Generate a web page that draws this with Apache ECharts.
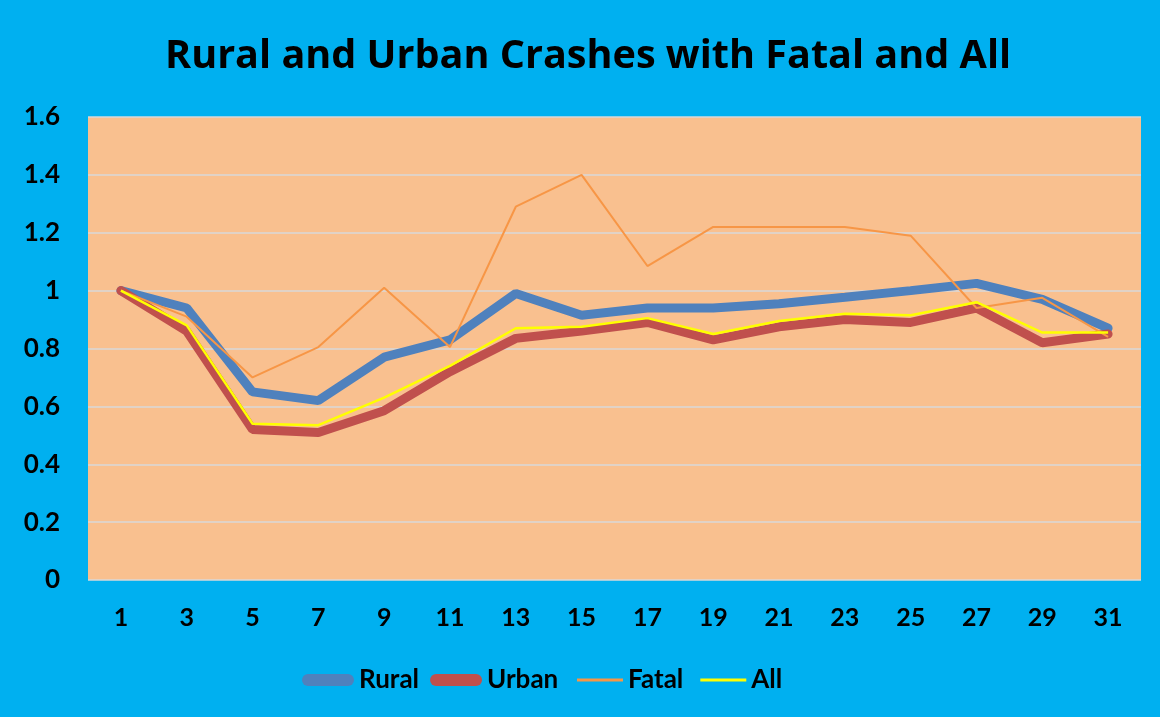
<!DOCTYPE html>
<html>
<head>
<meta charset="utf-8">
<script src="https://cdn.jsdelivr.net/npm/echarts@6/dist/echarts.min.js"></script>
<style>
  html, body { margin: 0; padding: 0; background: #00B0F0; }
  #main { width: 1160px; height: 717px; }
</style>
</head>
<body>
<div id="main"></div>
<script>
// x categories (every other day)
var days = ['1', '3', '5', '7', '9', '11', '13', '15', '17', '19', '21', '23', '25', '27', '29', '31'];

// values
var rural = [1.00, 0.94, 0.65, 0.62, 0.77, 0.83, 0.99, 0.915, 0.94, 0.94, 0.955, 0.977, 1.00, 1.025, 0.97, 0.87];
var urban = [1.00, 0.86, 0.52, 0.51, 0.585, 0.72, 0.835, 0.86, 0.89, 0.83, 0.875, 0.90, 0.89, 0.94, 0.82, 0.85];
var fatal = [1.00, 0.91, 0.70, 0.805, 1.01, 0.805, 1.29, 1.40, 1.085, 1.22, 1.22, 1.22, 1.19, 0.94, 0.975, 0.84];
var all   = [1.00, 0.88, 0.54, 0.535, 0.63, 0.74, 0.87, 0.875, 0.905, 0.85, 0.895, 0.92, 0.915, 0.96, 0.855, 0.855];

var FONT = 'Lato';
// capsule shaped legend marker for the thick lines
var capsule = 'path://M6,0 L46,0 A6,6 0 0 1 46,12 L6,12 A6,6 0 0 1 6,0 Z';

var myChart = echarts.init(document.getElementById('main'));

var option = {
  backgroundColor: '#00B0F0',
  animation: false,
  title: {
    text: 'Rural and Urban Crashes with Fatal and All',
    left: 160,
    top: 32,
    textStyle: { fontFamily: 'Open Sans', fontWeight: 'bold', fontSize: 39.6, color: '#000' }
  },
  legend: [
    {
      data: ['Rural', 'Urban'],
      left: 297,
      top: 662,
      icon: capsule,
      itemWidth: 52,
      itemHeight: 12,
      itemGap: 11,
      textStyle: { fontFamily: FONT, fontWeight: 'bold', fontSize: 26, color: '#000', lineHeight: 26 }
    },
    {
      data: ['Fatal', 'All'],
      left: 572,
      top: 662,
      icon: 'rect',
      itemWidth: 46,
      itemHeight: 3,
      itemGap: 17,
      textStyle: { fontFamily: FONT, fontWeight: 'bold', fontSize: 26, color: '#000', lineHeight: 26 }
    }
  ],
  grid: {
    left: 88,
    right: 19,
    top: 117,
    bottom: 137,
    show: true,
    backgroundColor: '#F9C08F',
    borderWidth: 0
  },
  xAxis: {
    type: 'category',
    data: days,
    boundaryGap: true,
    axisLine: { show: false },
    axisTick: { show: false },
    axisLabel: { fontFamily: FONT, fontWeight: 'bold', fontSize: 25, color: '#000', margin: 25 }
  },
  yAxis: {
    type: 'value',
    min: 0,
    max: 1.6,
    interval: 0.2,
    axisLine: { show: false },
    axisTick: { show: false },
    axisLabel: { fontFamily: FONT, fontWeight: 'bold', fontSize: 26, color: '#000', margin: 28 },
    splitLine: { lineStyle: { color: '#D9D9D9', width: 1.5 } }
  },
  series: [
    {
      name: 'Rural', type: 'line', data: rural, showSymbol: false, symbol: 'none',
      color: '#4F81BD',
      lineStyle: { width: 9, color: '#4F81BD', cap: 'round' }
    },
    {
      name: 'Urban', type: 'line', data: urban, showSymbol: false, symbol: 'none',
      color: '#C0504D',
      lineStyle: { width: 9, color: '#C0504D', cap: 'round' }
    },
    {
      name: 'Fatal', type: 'line', data: fatal, showSymbol: false, symbol: 'none',
      color: '#F79646',
      lineStyle: { width: 2, color: '#F79646' }
    },
    {
      name: 'All', type: 'line', data: all, showSymbol: false, symbol: 'none',
      color: '#FFFF00',
      lineStyle: { width: 2.5, color: '#FFFF00' }
    }
  ]
};

myChart.setOption(option);
</script>
</body>
</html>
